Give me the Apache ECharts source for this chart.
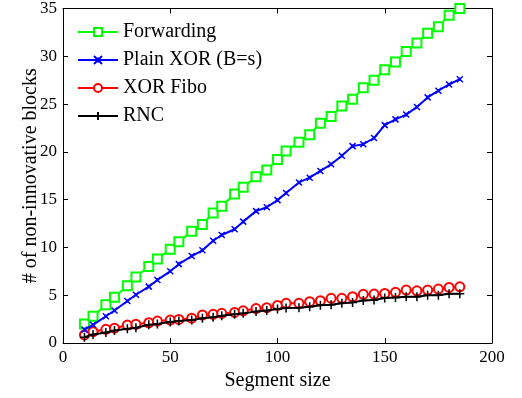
<!DOCTYPE html>
<html>
<head>
<meta charset="utf-8">
<script src="https://cdn.jsdelivr.net/npm/echarts@6/dist/echarts.min.js"></script>
<style>
  html, body { margin: 0; padding: 0; background: #fff; }
  #main { width: 522px; height: 398px; }
</style>
</head>
<body>
<div id="main"></div>
<script>
// segment sizes (x)
var segmentSize = [10, 14, 20, 24, 30, 34, 40, 44, 50, 54, 60, 65, 70, 74, 80, 84, 90, 95,
  100, 104, 110, 115, 120, 125, 130, 135, 140, 145, 150, 155, 160, 165, 170, 175, 180, 185];

var forwarding = [2.0, 2.8, 4.0, 4.8, 6.0, 6.9, 8.0, 8.8, 9.8, 10.6, 11.7, 12.4, 13.6, 14.3, 15.6, 16.3, 17.4, 18.1,
  19.2, 20.1, 21.0, 21.8, 23.0, 23.7, 24.8, 25.5, 26.7, 27.5, 28.6, 29.4, 30.5, 31.4, 32.4, 33.1, 34.3, 35.0];

var plainXor = [1.4, 1.9, 2.8, 3.4, 4.4, 5.05, 5.9, 6.6, 7.5, 8.25, 9.1, 9.7, 10.7, 11.3, 11.9, 12.7, 13.8, 14.2,
  14.95, 15.7, 16.8, 17.3, 18.0, 18.7, 19.6, 20.6, 20.8, 21.45, 22.8, 23.4, 23.9, 24.7, 25.7, 26.4, 27.05, 27.6];

var xorFibo = [0.84, 1.18, 1.43, 1.55, 1.88, 1.95, 2.12, 2.3, 2.4, 2.47, 2.6, 2.93, 3.0, 3.1, 3.2, 3.37, 3.6, 3.7,
  3.93, 4.15, 4.15, 4.32, 4.42, 4.67, 4.67, 4.84, 5.09, 5.12, 5.19, 5.3, 5.54, 5.46, 5.54, 5.64, 5.82, 5.88];

var rnc = [0.6, 0.9, 1.1, 1.3, 1.5, 1.6, 1.9, 2.0, 2.2, 2.3, 2.4, 2.6, 2.7, 2.85, 3.0, 3.1, 3.3, 3.4,
  3.55, 3.65, 3.7, 3.8, 3.95, 4.0, 4.15, 4.25, 4.45, 4.5, 4.7, 4.75, 4.85, 4.85, 5.0, 5.0, 5.15, 5.15];

var seriesNames = ['Forwarding', 'Plain XOR (B=s)', 'XOR Fibo', 'RNC'];

var FONT = "'Liberation Serif', 'Times New Roman', serif";

function pairs(ys) {
  return segmentSize.map(function (x, i) { return [x, ys[i]]; });
}

var chart = echarts.init(document.getElementById('main'));

// box around the plot, ticks pointing inwards
var boxAxisLine = { show: true, onZero: false, lineStyle: { color: '#000', width: 1 } };
var boxTick = { show: true, inside: true, length: 5, lineStyle: { color: '#000', width: 1 } };

var option = {
  backgroundColor: '#fff',
  animation: false,
  textStyle: { fontFamily: FONT },
  grid: { left: 63, right: 30, top: 8, bottom: 55 },
  legend: {
    orient: 'vertical',
    left: 72,
    top: 17,
    itemWidth: 40,
    itemHeight: 10,
    itemGap: 8,
    textStyle: { fontFamily: FONT, fontSize: 20, color: '#000', lineHeight: 20 },
    data: seriesNames
  },
  xAxis: [{
    type: 'value',
    min: 0, max: 200, interval: 50,
    name: 'Segment size',
    nameLocation: 'middle',
    nameGap: 28,
    nameMoveOverlap: false,
    nameTextStyle: { fontFamily: FONT, fontSize: 20, color: '#000' },
    axisLine: boxAxisLine,
    axisTick: boxTick,
    axisLabel: { fontFamily: FONT, fontSize: 17, color: '#000', margin: 6 },
    splitLine: { show: false }
  }, {
    type: 'value',
    position: 'top',
    min: 0, max: 200, interval: 50,
    axisLine: boxAxisLine,
    axisTick: boxTick,
    axisLabel: { show: false },
    splitLine: { show: false }
  }],
  yAxis: [{
    type: 'value',
    min: 0, max: 35, interval: 5,
    name: '# of non-innovative blocks',
    nameLocation: 'middle',
    nameGap: 22,
    nameMoveOverlap: false,
    nameTextStyle: { fontFamily: FONT, fontSize: 20, color: '#000' },
    axisLine: boxAxisLine,
    axisTick: boxTick,
    axisLabel: { fontFamily: FONT, fontSize: 17, color: '#000', margin: 6 },
    splitLine: { show: false }
  }, {
    type: 'value',
    position: 'right',
    min: 0, max: 35, interval: 5,
    axisLine: boxAxisLine,
    axisTick: boxTick,
    axisLabel: { show: false },
    splitLine: { show: false }
  }],
  series: [{
    name: seriesNames[0],
    type: 'line',
    data: pairs(forwarding),
    symbol: 'emptyRect',
    symbolSize: 9,
    color: '#00ff00',
    lineStyle: { width: 2, color: '#00ff00' },
    itemStyle: { color: '#00ff00', borderWidth: 1.5 },
    z: 2
  }, {
    name: seriesNames[1],
    type: 'line',
    data: pairs(plainXor),
    symbol: 'path://M0,0L10,10M0,10L10,0M5,2L5,8',
    symbolSize: 6,
    color: '#0000ff',
    lineStyle: { width: 2, color: '#0000ff' },
    itemStyle: { color: '#0000ff', borderColor: '#0000ff', borderWidth: 1.5 },
    z: 3
  }, {
    name: seriesNames[2],
    type: 'line',
    data: pairs(xorFibo),
    symbol: 'emptyCircle',
    symbolSize: 9,
    color: '#ff0000',
    lineStyle: { width: 2, color: '#ff0000' },
    itemStyle: { color: '#ff0000', borderWidth: 1.5 },
    z: 2
  }, {
    name: seriesNames[3],
    type: 'line',
    data: pairs(rnc),
    symbol: 'path://M5,0L5,10M0,5L10,5',
    symbolSize: 9,
    color: '#000',
    lineStyle: { width: 2, color: '#000' },
    itemStyle: { color: '#000', borderColor: '#000', borderWidth: 1.5 },
    z: 4
  }]
};

chart.setOption(option);
</script>
</body>
</html>
